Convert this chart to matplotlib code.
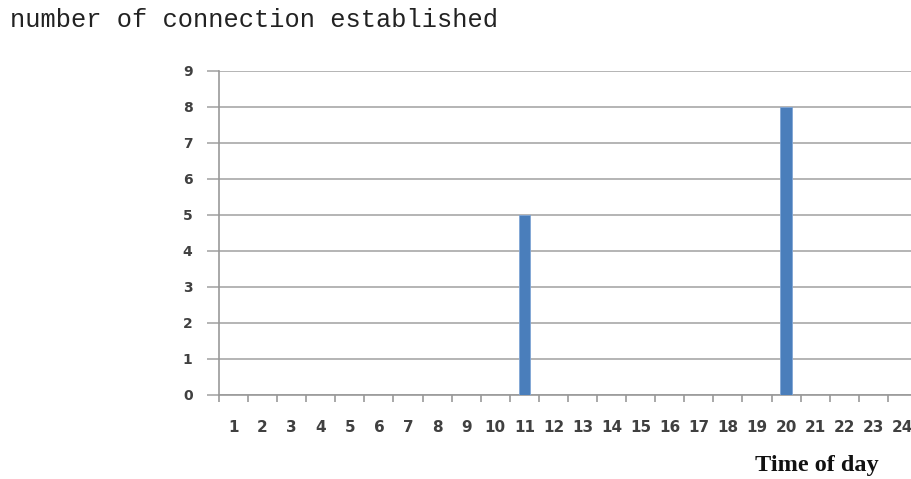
import matplotlib.pyplot as plt
import numpy as np

hours = list(range(1, 25))
connections = [0, 0, 0, 0, 0, 0, 0, 0, 0, 0, 5, 0, 0, 0, 0, 0, 0, 0, 0, 8, 0, 0, 0, 0]
y_ticks = list(range(0, 10))

fig = plt.figure(figsize=(9.12, 4.79), dpi=100)
W, H = 912, 479

# axes spans hour 0.5 .. 24.5; runs slightly past the right edge
left, right = 219, 917
bottom, top = 395, 71
ax = fig.add_axes([left / W, 1 - bottom / H, (right - left) / W, (bottom - top) / H])

ax.bar(hours, connections, width=0.4, color='#4a7ebb', edgecolor='#7fa6d6', linewidth=0.6, zorder=3)

ax.set_xlim(0.5, 24.5)
ax.set_ylim(0, 9)
ax.set_yticks(y_ticks)
ax.grid(axis='y', color='#a8a8a8', linewidth=1.2, zorder=0)

for side in ['top', 'right']:
    ax.spines[side].set_visible(False)
for side in ['left', 'bottom']:
    ax.spines[side].set_color('#999999')
    ax.spines[side].set_linewidth(1.2)

# category labels centred, tick marks on the boundaries
ax.set_xticks(hours)
ax.set_xticklabels([str(h) for h in hours])
ax.tick_params(axis='x', which='major', length=0, pad=18)
ax.set_xticks(np.arange(0.5, 25, 1), minor=True)
ax.tick_params(axis='x', which='minor', length=5, width=1.2, color='#999999', direction='out')
ax.tick_params(axis='y', length=9, width=1.2, color='#a8a8a8', pad=10)

for lab in ax.get_xticklabels():
    lab.set_fontsize(11)
for lab in ax.get_yticklabels():
    lab.set_fontsize(10)
for lab in ax.get_xticklabels() + ax.get_yticklabels():
    lab.set_fontfamily('DejaVu Sans')
    lab.set_fontweight('bold')
    lab.set_color('#404040')

fig.text(10 / W, 1 - 20 / H, 'number of connection established', family='Liberation Mono',
         fontsize=18.3, color='#222222', va='center', ha='left')
fig.text(817 / W, 1 - 466 / H, 'Time of day', family='Liberation Serif', fontweight='bold',
         fontsize=17.5, color='#111111', va='center', ha='center')

fig.savefig('out.png', dpi=100)
